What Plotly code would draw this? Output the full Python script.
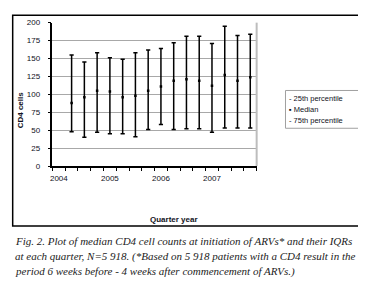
import plotly.graph_objects as go

quarters = ["2004 Q2", "2004 Q3", "2004 Q4",
            "2005 Q1", "2005 Q2", "2005 Q3", "2005 Q4",
            "2006 Q1", "2006 Q2", "2006 Q3", "2006 Q4",
            "2007 Q1", "2007 Q2", "2007 Q3", "2007 Q4"]
p25 = [48, 40, 47, 45, 45, 41, 51, 58, 51, 52, 52, 47, 53, 53, 53]
median = [88, 96, 105, 104, 96, 98, 105, 111, 119, 121, 119, 112, 127, 119, 124]
p75 = [155, 145, 158, 151, 149, 158, 162, 164, 172, 181, 181, 171, 195, 182, 184]
year_labels = ["2004", "2005", "2006", "2007"]
y_ticks = [0, 25, 50, 75, 100, 125, 150, 175, 200]
legend_labels = ["25th percentile", "Median", "75th percentile"]
legend_glyphs = ["-", "\u25aa", "-"]
caption_lines = [
    "Fig. 2. Plot of median CD4 cell counts at initiation of ARVs* and their IQRs",
    "at each quarter, N=5 918. (*Based on 5 918 patients with a CD4 result in the",
    "period 6 weeks before - 4 weeks after commencement of ARVs.)",
]


def qpos(q):
    y, qq = q.split(" Q")
    return (int(y) - 2004) * 4 + int(qq) - 1


xs = [qpos(q) for q in quarters]
n_slots = len(year_labels) * 4
W, H = 366, 289

FONT = "Liberation Sans, Arial, sans-serif"
TXT = "#111122"

fig = go.Figure()
fig.add_trace(go.Scatter(
    x=xs, y=p25, mode="markers", name=legend_labels[0],
    marker=dict(symbol="line-ew", size=3, line=dict(width=1.5, color="black"), color="black"),
))
fig.add_trace(go.Scatter(
    x=xs, y=median, mode="markers", name=legend_labels[1],
    marker=dict(symbol="square", size=2.5, color="black"),
    error_y=dict(type="data", symmetric=False,
                 array=[h - m for h, m in zip(p75, median)],
                 arrayminus=[m - l for m, l in zip(median, p25)],
                 color="black", thickness=1.5, width=0),
))
fig.add_trace(go.Scatter(
    x=xs, y=p75, mode="markers", name=legend_labels[2],
    marker=dict(symbol="line-ew", size=3, line=dict(width=1.5, color="black"), color="black"),
))

px0, px1 = 42.7, 248
py0, py1 = 11, 159

annotations = [
    dict(text="<b>CD4 cells</b>", xref="paper", yref="paper",
         x=10 / W, y=1 - 100.5 / H, textangle=-90, showarrow=False,
         xanchor="center", yanchor="middle",
         font=dict(family=FONT, size=8, color=TXT)),
    dict(text="<b>Quarter year</b>", xref="paper", yref="paper",
         x=165 / W, y=1 - 214 / H, showarrow=False,
         xanchor="center", yanchor="middle",
         font=dict(family=FONT, size=8, color=TXT)),
]
for i, line in enumerate(caption_lines):
    annotations.append(dict(
        text=line, xref="paper", yref="paper", x=3 / W, y=1 - (236.5 + 15.8 * i) / H,
        xanchor="left", yanchor="middle", align="left", showarrow=False,
        font=dict(family="Liberation Serif, serif", size=11, color="#222222", style="italic")))
for i, (g, lab) in enumerate(zip(legend_glyphs, legend_labels)):
    annotations.append(dict(
        text=g + " " + lab, xref="paper", yref="paper", x=279 / W, y=1 - (89.5 + 11.5 * i) / H,
        xanchor="left", yanchor="middle", align="left", showarrow=False,
        font=dict(family=FONT, size=7.5, color=TXT)))

fig.update_layout(
    width=W, height=H,
    margin=dict(l=0, r=0, t=0, b=0),
    paper_bgcolor="white", plot_bgcolor="white",
    font=dict(family=FONT, size=8, color=TXT),
    showlegend=False,
    xaxis=dict(
        domain=[px0 / W, px1 / W],
        range=[-0.5, n_slots - 0.5],
        tickmode="array",
        tickvals=[i * 4 for i in range(len(year_labels))],
        ticktext=year_labels,
        ticks="", showgrid=False, zeroline=False,
        showline=True, linecolor="black", linewidth=1.5,
        tickfont=dict(family=FONT, size=8, color=TXT),
        ticklabelstandoff=4,
        minor=dict(tickmode="array",
                   tickvals=[i - 0.5 for i in range(n_slots + 1)],
                   ticks="outside", ticklen=3, tickwidth=1, tickcolor="black",
                   showgrid=False),
        fixedrange=True,
    ),
    yaxis=dict(
        domain=[1 - py1 / H, 1 - py0 / H],
        range=[0, 200],
        tickmode="array", tickvals=y_ticks,
        ticks="outside", ticklen=3, tickcolor="black",
        ticklabelstandoff=6,
        showgrid=True, gridcolor="#a8a8a8", gridwidth=1,
        zeroline=False,
        showline=True, linecolor="black", linewidth=1.5,
        tickfont=dict(family=FONT, size=8, color=TXT),
        fixedrange=True,
    ),
    shapes=[
        dict(type="line", xref="x domain", yref="y domain", x0=1, x1=1, y0=0, y1=1,
             line=dict(color="#bdbdbd", width=2)),
        dict(type="rect", xref="paper", yref="paper",
             x0=2.7 / W, x1=357.3 / W, y0=1 - 221 / H, y1=1 - 3.3 / H,
             line=dict(color="black", width=1.5)),
        dict(type="rect", xref="paper", yref="paper",
             x0=277 / W, x1=352 / W, y0=1 - 120 / H, y1=1 - 81 / H,
             line=dict(color="#a0a0a0", width=1)),
    ],
    annotations=annotations,
)

fig.write_html("out.html")
